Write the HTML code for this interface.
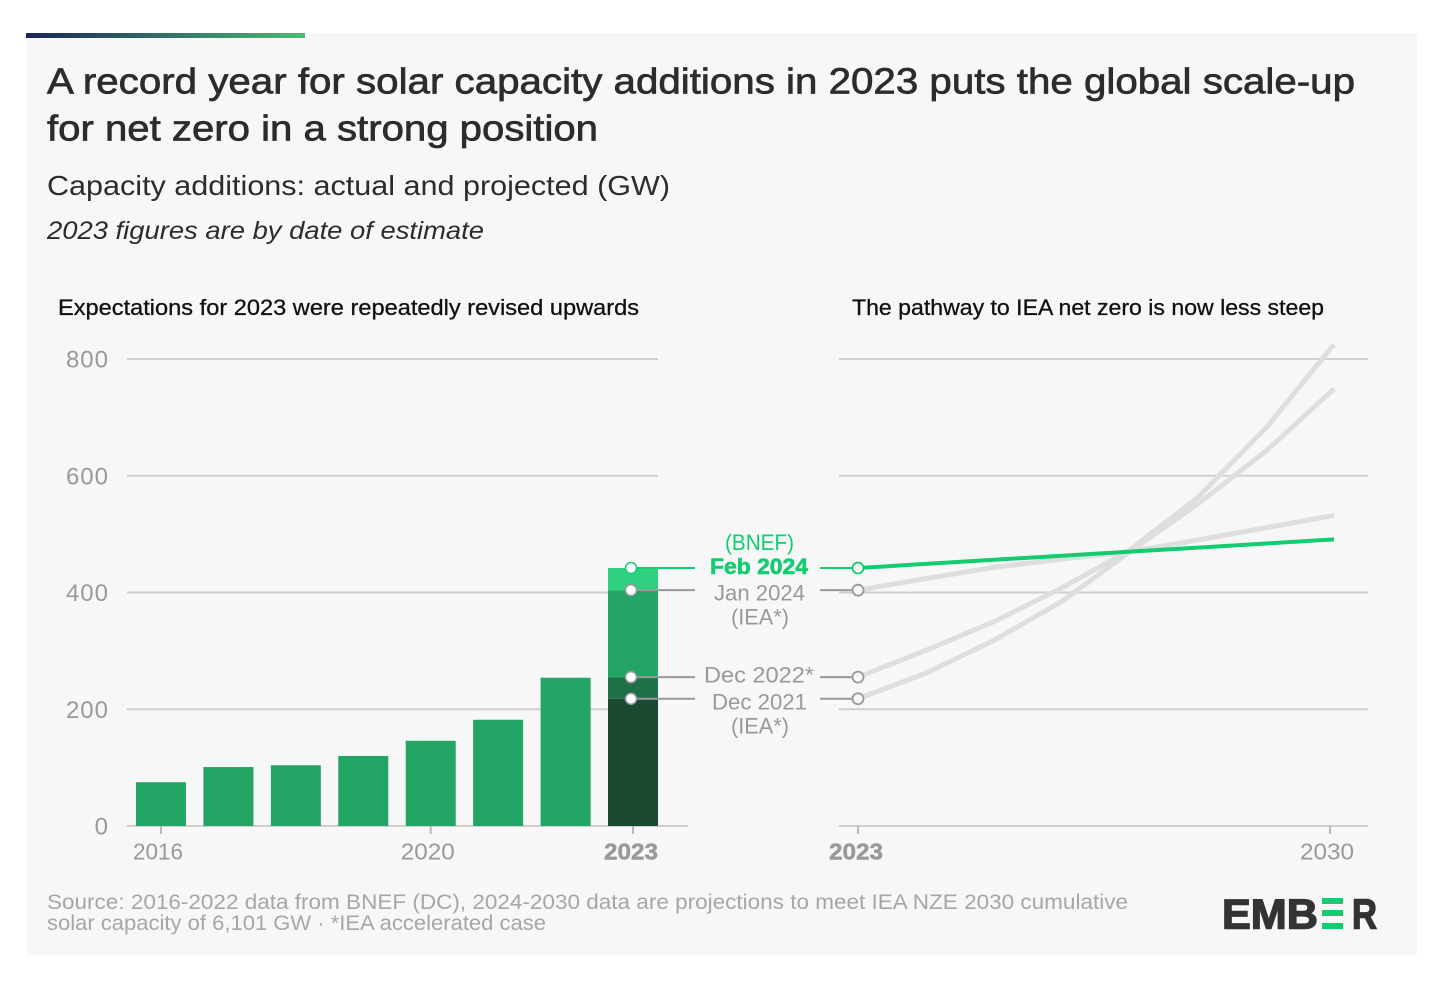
<!DOCTYPE html>
<html lang="en">
<head>
<meta charset="utf-8">
<title>Solar capacity additions chart</title>
<style>
html,body{margin:0;padding:0;background:#fff;width:1456px;height:989px;overflow:hidden}
svg{display:block}
text{font-family:"Liberation Sans",sans-serif}
</style>
</head>
<body>
<svg id="chart" xmlns="http://www.w3.org/2000/svg" width="1456" height="989" viewBox="0 0 1456 989">
  <defs>
    <linearGradient id="topbar" x1="0" x2="1" y1="0" y2="0">
      <stop offset="0" stop-color="#1b2558"/>
      <stop offset="1" stop-color="#4dbb76"/>
    </linearGradient>
  </defs>
  <rect x="26" y="33" width="1391" height="922" fill="#f7f7f7"/>
  <rect x="26" y="33" width="279" height="5" fill="url(#topbar)"/>

  <text x="47" y="93.5" font-size="36" fill="#2c2c2c" stroke="#2c2c2c" stroke-width="0.7" textLength="1308" lengthAdjust="spacingAndGlyphs">A record year for solar capacity additions in 2023 puts the global scale-up</text>
  <text x="47" y="140.5" font-size="36" fill="#2c2c2c" stroke="#2c2c2c" stroke-width="0.7" textLength="551" lengthAdjust="spacingAndGlyphs">for net zero in a strong position</text>
  <text x="47" y="195" font-size="28" fill="#2c2c2c" textLength="623" lengthAdjust="spacingAndGlyphs">Capacity additions: actual and projected (GW)</text>
  <text x="47" y="239" font-size="25" font-style="italic" fill="#2c2c2c" textLength="437" lengthAdjust="spacingAndGlyphs">2023 figures are by date of estimate</text>
  <text x="58" y="315" font-size="22" fill="#111" stroke="#111" stroke-width="0.3" textLength="581" lengthAdjust="spacingAndGlyphs">Expectations for 2023 were repeatedly revised upwards</text>
  <text x="852" y="315" font-size="22" fill="#111" stroke="#111" stroke-width="0.3" textLength="472" lengthAdjust="spacingAndGlyphs">The pathway to IEA net zero is now less steep</text>

  <g id="grid-layer"></g>
  <g id="bar-layer"></g>
  <g id="line-layer"></g>
  <g id="connector-layer"></g>
  <g id="tick-layer"></g>

  <g font-size="22" fill="#999">
    <text x="725" y="550" fill="#12cc70" textLength="69" lengthAdjust="spacingAndGlyphs">(BNEF)</text>
    <text x="710" y="574" fill="#12cc70" stroke="#12cc70" stroke-width="0.6" font-weight="700" textLength="98" lengthAdjust="spacingAndGlyphs">Feb 2024</text>
    <text x="714" y="600.5" textLength="91" lengthAdjust="spacingAndGlyphs">Jan 2024</text>
    <text x="731" y="624.5" textLength="58" lengthAdjust="spacingAndGlyphs">(IEA*)</text>
    <text x="704" y="682.5" textLength="110" lengthAdjust="spacingAndGlyphs">Dec 2022*</text>
    <text x="712" y="709.5" textLength="95" lengthAdjust="spacingAndGlyphs">Dec 2021</text>
    <text x="731" y="733.5" textLength="58" lengthAdjust="spacingAndGlyphs">(IEA*)</text>
  </g>

  <text x="47" y="909" font-size="21" fill="#a6a6a6" textLength="1081" lengthAdjust="spacingAndGlyphs">Source: 2016-2022 data from BNEF (DC), 2024-2030 data are projections to meet IEA NZE 2030 cumulative</text>
  <text x="47" y="930" font-size="21" fill="#a6a6a6" textLength="499" lengthAdjust="spacingAndGlyphs">solar capacity of 6,101 GW · *IEA accelerated case</text>

  <g>
    <text x="1222" y="928.5" font-size="42" font-weight="700" fill="#333" stroke="#333" stroke-width="1.4" textLength="96" lengthAdjust="spacingAndGlyphs">EMB</text>
    <rect x="1322" y="898" width="21" height="6" fill="#12cc70"/>
    <rect x="1322" y="910" width="21" height="6" fill="#12cc70"/>
    <rect x="1322" y="923" width="21" height="6" fill="#12cc70"/>
    <text x="1352" y="928.5" font-size="42" font-weight="700" fill="#333" stroke="#333" stroke-width="1.4" textLength="25" lengthAdjust="spacingAndGlyphs">R</text>
  </g>
</svg>
<script>
const barYears = [2016, 2017, 2018, 2019, 2020, 2021, 2022];
const barValues = [75, 101, 104, 120, 146, 182, 254];
const stackYear = 2023;
const estimateValues2023 = [218, 255, 404, 442];
const yTicks = [0, 200, 400, 600, 800];
const leftXTicks = [2016, 2020, 2023];
const rightXTicks = [2023, 2030];
const lineYears = [2023, 2024, 2025, 2026, 2027, 2028, 2029, 2030];
const lineFeb2024 = [442, 449, 456, 463, 470, 477, 484, 491];
const lineJan2024 = [404, 424, 443, 457, 470, 490, 511, 532];
const lineDec2022 = [255, 301, 350, 408, 473, 563, 682, 825];
const lineDec2021 = [218, 262, 318, 385, 470, 552, 642, 749];

const NS = 'http://www.w3.org/2000/svg';
const yScale = v => 826 - v * 467 / 800;
const xLeft = yr => 161 + (yr - 2016) * 67.43;
const xRight = yr => 858 + (yr - 2023) * 67.43;
const xLine = yr => 858 + (yr - 2023) * 68;

function mk(parent, tag, props) {
  const el = document.createElementNS(NS, tag);
  for (const k in props) el.setAttribute(k, props[k]);
  parent.appendChild(el);
  return el;
}
const gridLayer = document.getElementById('grid-layer');
const barLayer = document.getElementById('bar-layer');
const lineLayer = document.getElementById('line-layer');
const connLayer = document.getElementById('connector-layer');
const tickLayer = document.getElementById('tick-layer');

yTicks.forEach(t => {
  const yy = yScale(t);
  const l1 = mk(gridLayer, 'line', {x1: 127, x2: t === 0 ? 688 : 658, y1: yy, y2: yy, stroke: '#cfcfcf', 'stroke-width': 2});
  
  
  const l2 = mk(gridLayer, 'line', {x1: 839, x2: 1368, y1: yy, y2: yy, stroke: '#cfcfcf', 'stroke-width': 2});
  
  
  const lab = mk(tickLayer, 'text', {x: 109, y: yy + 8.5, 'text-anchor': 'end', 'font-size': 24, 'letter-spacing': 1, fill: '#999'});
  lab.textContent = t;
  
  
});

barYears.forEach((yr, i) => {
  const top = yScale(barValues[i]);
  const r = mk(barLayer, 'rect', {x: xLeft(yr) - 25, y: top, width: 50, height: 826 - top, fill: '#23a566'});
  
  
});

const stackColors = ['#1b4a33', '#1f7049', '#23a566', '#2fd07f'];
const stackNames = ['dec-2021', 'dec-2022', 'jan-2024', 'feb-2024'];
estimateValues2023.forEach((v, i) => {
  const lo = i === 0 ? 0 : estimateValues2023[i - 1];
  const top = yScale(v);
  const r = mk(barLayer, 'rect', {x: xLeft(stackYear) - 25, y: top, width: 50, height: yScale(lo) - top, fill: stackColors[i]});
  
  
});

const lineSeries = [
  {name: 'line-dec-2021', vals: lineDec2021, color: '#dedede', w: 5},
  {name: 'line-dec-2022', vals: lineDec2022, color: '#dedede', w: 5},
  {name: 'line-jan-2024', vals: lineJan2024, color: '#dedede', w: 5},
  {name: 'line-feb-2024', vals: lineFeb2024, color: '#12cc70', w: 4}
];
lineSeries.forEach(s => {
  const d = s.vals.map((v, i) => (i ? 'L' : 'M') + xLine(lineYears[i]).toFixed(1) + ' ' + yScale(v).toFixed(1)).join(' ');
  const p = mk(lineLayer, 'path', {d: d, fill: 'none', stroke: s.color, 'stroke-width': s.w, 'stroke-linejoin': 'round'});
  
  
});

estimateValues2023.forEach((v, i) => {
  const yy = yScale(v);
  const isFeb = i === 3;
  const c = isFeb ? '#12cc70' : '#999';
  const cx1 = xLeft(stackYear) - 2;
  const cx2 = xRight(stackYear);
  const segA = mk(connLayer, 'line', {x1: cx1, x2: 695, y1: yy, y2: yy, stroke: c, 'stroke-width': 2});
  
  
  const segB = mk(connLayer, 'line', {x1: 820, x2: cx2, y1: yy, y2: yy, stroke: c, 'stroke-width': 2});
  
  
  const d1 = mk(connLayer, 'circle', {cx: cx1, cy: yy, r: 5.5, fill: '#fff', stroke: isFeb ? '#12cc70' : '#999', 'stroke-width': 1.5});
  
  
  const d2 = mk(connLayer, 'circle', {cx: cx2, cy: yy, r: 5.5, fill: '#f7f7f7', stroke: c, 'stroke-width': 1.8});
  
  
});

function xTick(x, label, bold) {
  const t = mk(tickLayer, 'line', {x1: x, x2: x, y1: 826, y2: 834, stroke: '#bbb', 'stroke-width': 2});
  
  
  const text = String(label);
  const lab = mk(tickLayer, 'text', {x: x - (text === '2023' ? 2 : 3), y: 859.5, 'text-anchor': 'middle', 'font-size': 23, fill: '#999', textLength: text.includes('1') ? 50 : 54, lengthAdjust: 'spacingAndGlyphs'});
  if (bold) {
    lab.setAttribute('font-weight', '700');
    lab.setAttribute('stroke', '#999');
    lab.setAttribute('stroke-width', '0.5');
  }
  lab.textContent = text;
  
  
}
leftXTicks.forEach(yr => xTick(xLeft(yr), yr, yr === 2023));
rightXTicks.forEach(yr => xTick(xRight(yr), yr, yr === 2023));
</script>
</body>
</html>
